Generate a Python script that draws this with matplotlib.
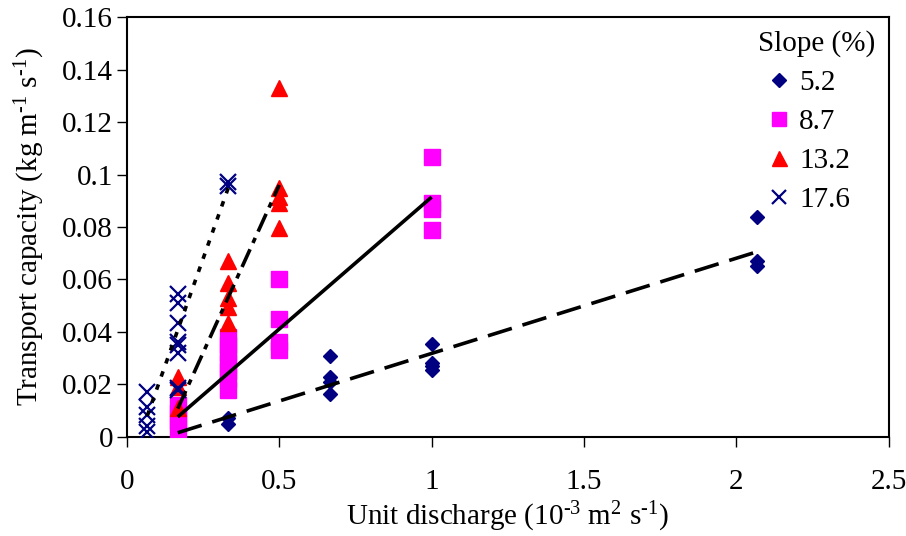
import matplotlib
matplotlib.use("Agg")
import matplotlib.pyplot as plt
import numpy as np
from matplotlib.ticker import FuncFormatter

plt.rcParams['font.family'] = ['Liberation Serif', 'DejaVu Serif']
plt.rcParams['mathtext.fontset'] = 'custom'
plt.rcParams['mathtext.rm'] = 'Liberation Serif'
plt.rcParams['mathtext.it'] = 'Liberation Serif:italic'
plt.rcParams['lines.scale_dashes'] = False

# ---- data ----
slopes = ['5.2', '8.7', '13.2', '17.6']

x_52 = [0.167, 0.333, 0.333, 0.667, 0.667, 0.667, 0.667, 1.0, 1.0, 1.0, 1.0, 2.067, 2.067, 2.067]
y_52 = [0.0015, 0.007, 0.005, 0.031, 0.023, 0.021, 0.0165, 0.0355, 0.028, 0.027, 0.0255, 0.084, 0.067, 0.065]

x_87 = [0.167, 0.167, 0.167, 0.167, 0.333, 0.333, 0.333, 0.333, 0.333, 0.333, 0.333,
        0.5, 0.5, 0.5, 0.5, 1.0, 1.0, 1.0, 1.0]
y_87 = [0.003, 0.006, 0.009, 0.012, 0.018, 0.022, 0.025, 0.028, 0.032, 0.035, 0.038,
        0.060, 0.045, 0.036, 0.033, 0.1065, 0.089, 0.087, 0.079]

x_132 = [0.167, 0.167, 0.167, 0.333, 0.333, 0.333, 0.333, 0.333, 0.5, 0.5, 0.5, 0.5, 0.5]
y_132 = [0.023, 0.019, 0.011, 0.067, 0.0585, 0.053, 0.0495, 0.0435, 0.133, 0.095, 0.0915, 0.089, 0.0795]

x_176 = [0.067, 0.067, 0.067, 0.067, 0.067, 0.167, 0.167, 0.167, 0.167, 0.167, 0.167, 0.167, 0.167, 0.333, 0.333]
y_176 = [0.017, 0.0115, 0.0085, 0.004, 0.002, 0.0545, 0.051, 0.0435, 0.036, 0.035, 0.032, 0.0187, 0.018, 0.097, 0.0955]

# fitted lines: slope, intercept, x range
fit_52 = (0.0363, -0.0045, 0.167, 2.067)
fit_87 = (0.1006, -0.0092, 0.167, 1.0)
fit_132 = (0.256, -0.032, 0.167, 0.5)
fit_176 = (0.327, -0.0139, 0.067, 0.333)

xticks = [0, 0.5, 1, 1.5, 2, 2.5]
yticks = [0, 0.02, 0.04, 0.06, 0.08, 0.1, 0.12, 0.14, 0.16]

# ---- plot ----
FS = 21
fig = plt.figure(figsize=(9.06, 5.36), dpi=100)
ax = fig.add_axes([0.140, 0.185, 0.841, 0.783])

navy = '#000080'
mag = '#FF00FF'
red = '#FF0000'

h1, = ax.plot(x_52, y_52, 'D', color=navy, ms=7.5, ls='none', label=slopes[0], zorder=3)
h2, = ax.plot(x_87, y_87, 's', color=mag, ms=11, ls='none', label=slopes[1], zorder=3)
h3, = ax.plot(x_132, y_132, '^', color=red, ms=12, ls='none', label=slopes[2], zorder=3)
h4, = ax.plot(x_176, y_176, 'x', color=navy, ms=11, mew=1.6, ls='none', label=slopes[3], zorder=3)

def fitline(fit, dashes):
    a, b, x0, x1 = fit
    xs = np.array([x0, x1])
    ax.plot(xs, a * xs + b, color='black', lw=2.6, dashes=dashes, zorder=4,
            solid_capstyle='butt', dash_capstyle='butt')

fitline(fit_52, (18, 8))
fitline(fit_87, ())
fitline(fit_132, (14, 5, 4, 5))
fitline(fit_176, (4, 6))

ax.set_xlim(0, 2.5)
ax.set_ylim(0, 0.16)
ax.set_xticks(xticks)
ax.set_yticks(yticks)
fmt = FuncFormatter(lambda v, p: '%g' % round(v, 4))
ax.xaxis.set_major_formatter(fmt)
ax.yaxis.set_major_formatter(fmt)
ax.tick_params(direction='out', length=7, width=1, labelsize=FS, top=False, right=False, pad=3)
ax.tick_params(axis='x', pad=16)
for s in ax.spines.values():
    s.set_linewidth(1.5)

hy = '\u2010'
ax.set_xlabel(r'Unit discharge (10$^{\mathrm{%s3}}$ m$^{\mathrm{2}}$ s$^{\mathrm{%s1}}$)' % (hy, hy),
              fontsize=FS, labelpad=4)
ax.set_ylabel(r'Transport capacity (kg m$^{\mathrm{%s1}}$ s$^{\mathrm{%s1}}$)' % (hy, hy),
              fontsize=FS, labelpad=11)

leg = ax.legend(handles=[h1, h2, h3, h4], title='Slope (%)', loc='upper right', frameon=False,
                fontsize=FS, title_fontsize=FS, handletextpad=0.0, handlelength=1.4,
                labelspacing=0.43, borderaxespad=0.25, borderpad=0.2, markerscale=0.9)
leg._legend_box.align = 'left'

fig.savefig('out.png', dpi=100)
